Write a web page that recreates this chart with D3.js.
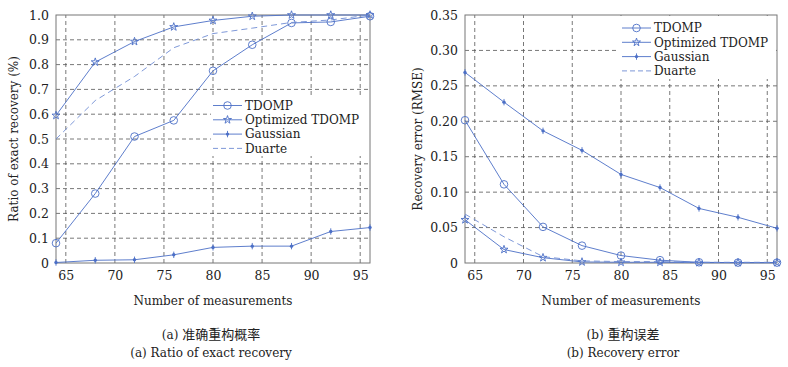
<!DOCTYPE html>
<html lang="en">

<head>
    <meta charset="UTF-8">
    <title>Recovery comparison</title>
    <script src="https://d3js.org/d3.v7.min.js"></script>
    <style>
        body {
            margin: 0;
            background: #fff;
        }

        .grid line {
            stroke: #555;
            stroke-width: 0.8px;
            stroke-dasharray: 4, 3;
        }

        .frame {
            fill: none;
            stroke: #777;
            stroke-width: 1px;
        }
    </style>
</head>

<body>
    <svg id="chart" width="788" height="367"></svg>
    <script>
        // measurement counts (x axis, both panels)
        const measurements = [64, 68, 72, 76, 80, 84, 88, 92, 96];
        const xTicks = [65, 70, 75, 80, 85, 90, 95];

        // (a) ratio of exact recovery
        const ratioTDOMP = [0.08, 0.28, 0.51, 0.575, 0.775, 0.88, 0.968, 0.972, 0.995];
        const ratioOptimized = [0.595, 0.81, 0.893, 0.952, 0.978, 0.995, 1.0, 1.0, 1.0];
        const ratioGaussian = [0.002, 0.011, 0.013, 0.033, 0.063, 0.068, 0.068, 0.127, 0.143];
        const ratioDuarte = [0.5, 0.655, 0.752, 0.868, 0.925, 0.947, 0.97, 0.98, 1.0];
        const ratioTicks = [0, 0.1, 0.2, 0.3, 0.4, 0.5, 0.6, 0.7, 0.8, 0.9, 1.0];

        // (b) recovery error (RMSE)
        const errTDOMP = [0.2015, 0.111, 0.051, 0.0245, 0.0105, 0.004, 0.001, 0.0005, 0.0005];
        const errOptimized = [0.061, 0.019, 0.0075, 0.0015, 0.001, 0.001, 0.0005, 0.0005, 0.0005];
        const errGaussian = [0.269, 0.227, 0.1865, 0.159, 0.125, 0.1065, 0.077, 0.0645, 0.049];
        const errDuarte = [0.069, 0.037, 0.009, 0.003, 0.002, 0.002, 0.001, 0.001, 0.001];
        const errTicks = [0, 0.05, 0.10, 0.15, 0.20, 0.25, 0.30, 0.35];

        const seriesNames = ["TDOMP", "Optimized TDOMP", "Gaussian", "Duarte"];
        const markers = ["circle", "star", "asterisk", null];

        const blue = "#4c6fc6";
        const lightBlue = "#6f8cd4";
        const serif = "DejaVu Serif";

        const svg = d3.select("#chart");

        function label(sel, size) {
            return sel.style("font-family", serif).style("font-size", size + "px").attr("fill", "#222");
        }

        function drawMarker(g, type, x, y) {
            if (type === "circle") {
                g.append("circle")
                    .attr("cx", x).attr("cy", y).attr("r", 3.8)
                    .attr("fill", "none").attr("stroke", blue).attr("stroke-width", 0.9);
            } else if (type === "star") {
                g.append("path")
                    .attr("transform", `translate(${x},${y})`)
                    .attr("d", d3.symbol(d3.symbolStar, 20)())
                    .attr("fill", "none").attr("stroke", blue).attr("stroke-width", 0.9);
            } else if (type === "asterisk") {
                g.append("circle")
                    .attr("cx", x).attr("cy", y).attr("r", 1.7)
                    .attr("fill", blue);
                g.append("line")
                    .attr("x1", x).attr("x2", x).attr("y1", y - 3.2).attr("y2", y + 3.2)
                    .attr("stroke", blue).attr("stroke-width", 0.9);
            }
        }

        function drawPanel(p) {
            const x = d3.scaleLinear().domain([64, 96]).range([p.left, p.right]);
            const y = d3.scaleLinear().domain(p.yDomain).range([263, 15]);

            const g = svg.append("g");

            // grid
            const grid = g.append("g").attr("class", "grid");
            grid.selectAll(".v").data(xTicks).join("line")
                .attr("x1", d => x(d)).attr("x2", d => x(d))
                .attr("y1", y.range()[0]).attr("y2", y.range()[1]);
            grid.selectAll(".h").data(p.yTicks.slice(1, -1)).join("line")
                .attr("x1", p.left).attr("x2", p.right)
                .attr("y1", d => y(d)).attr("y2", d => y(d));

            g.append("rect").attr("class", "frame")
                .attr("x", p.left).attr("y", 15)
                .attr("width", p.right - p.left).attr("height", 248);

            // axes
            const xAxis = g.append("g")
                .attr("transform", "translate(0,263)")
                .call(d3.axisBottom(x).tickValues(xTicks).tickSize(0).tickPadding(8).tickFormat(d3.format("d")));
            const yAxis = g.append("g")
                .attr("transform", `translate(${p.left},0)`)
                .call(d3.axisLeft(y).tickValues(p.yTicks).tickSize(0).tickPadding(7).tickFormat(p.fmt));
            [xAxis, yAxis].forEach(a => {
                a.select(".domain").remove();
                label(a.selectAll("text"), 12.5);
            });

            // legend box (drawn before lines so the curves pass over it)
            const lg = g.append("g");
            lg.append("rect")
                .attr("x", p.legend.x0).attr("y", p.legend.y0)
                .attr("width", p.right - p.legend.x0 - 1).attr("height", p.legend.h)
                .attr("fill", "#fff");

            // lines
            const line = d3.line().x((d, i) => x(measurements[i])).y(d => y(d));
            p.series.forEach((vals, k) => {
                const dashed = markers[k] === null;
                g.append("path")
                    .datum(vals)
                    .attr("d", line)
                    .attr("fill", "none")
                    .attr("stroke", dashed ? lightBlue : blue)
                    .attr("stroke-width", 0.9)
                    .attr("stroke-dasharray", dashed ? "6,4" : null);
                if (!dashed) {
                    const mg = g.append("g");
                    vals.forEach((v, i) => drawMarker(mg, markers[k], x(measurements[i]), y(v)));
                }
            });

            // legend entries
            seriesNames.forEach((name, k) => {
                const ly = p.legend.rowY + k * 14.3;
                const dashed = markers[k] === null;
                lg.append("line")
                    .attr("x1", p.legend.lx).attr("x2", p.legend.lx + 29)
                    .attr("y1", ly).attr("y2", ly)
                    .attr("stroke", dashed ? lightBlue : blue)
                    .attr("stroke-width", 0.9)
                    .attr("stroke-dasharray", dashed ? "5,3" : null);
                if (!dashed) drawMarker(lg, markers[k], p.legend.lx + 14.5, ly);
                label(lg.append("text"), 12)
                    .attr("x", p.legend.lx + 32).attr("y", ly + 4.3)
                    .text(name);
            });

            // axis titles
            label(g.append("text"), 12)
                .attr("x", (p.left + p.right) / 2).attr("y", 305)
                .attr("text-anchor", "middle")
                .text("Number of measurements");
            label(g.append("text"), 12)
                .attr("transform", `translate(${p.ylabX},139) rotate(-90)`)
                .attr("text-anchor", "middle")
                .text(p.ylabel);

            // captions
            label(g.append("text"), 12)
                .attr("x", p.capX).attr("y", 339)
                .attr("text-anchor", "middle")
                .html(`(${p.tag}) <tspan style="font-family:'Noto Sans CJK SC'; font-size:13px">${p.cn}</tspan>`);
            label(g.append("text"), 12)
                .attr("x", p.capX).attr("y", 357)
                .attr("text-anchor", "middle")
                .text(`(${p.tag}) ${p.en}`);
        }

        drawPanel({
            left: 56, right: 370,
            yDomain: [0, 1], yTicks: ratioTicks, fmt: d => d === 0 ? "0" : d3.format(".1f")(d),
            series: [ratioTDOMP, ratioOptimized, ratioGaussian, ratioDuarte],
            legend: { x0: 211, y0: 96, h: 60, lx: 213, rowY: 105.5 },
            ylabel: "Ratio of exact recovery (%)", ylabX: 18,
            tag: "a", cn: "准确重构概率", en: "Ratio of exact recovery", capX: 211
        });

        drawPanel({
            left: 465, right: 777,
            yDomain: [0, 0.35], yTicks: errTicks, fmt: d => d === 0 ? "0" : d3.format(".2f")(d),
            series: [errTDOMP, errOptimized, errGaussian, errDuarte],
            legend: { x0: 617, y0: 16, h: 63, lx: 622, rowY: 28 },
            ylabel: "Recovery error (RMSE)", ylabX: 422,
            tag: "b", cn: "重构误差", en: "Recovery error", capX: 623
        });
    </script>
</body>

</html>
